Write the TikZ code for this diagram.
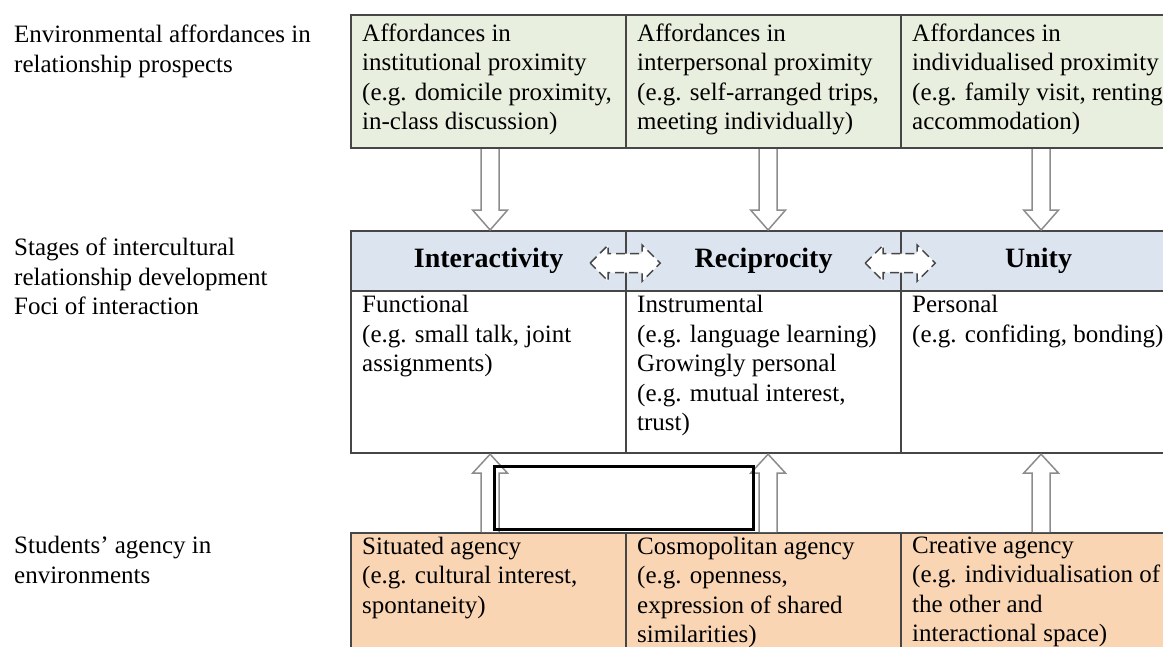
\documentclass[tikz,border=0pt]{standalone}
\usepackage{fontspec}
\setmainfont{Liberation Serif}
\usetikzlibrary{calc}

\definecolor{affgreen}{RGB}{233,239,222}
\definecolor{stageblue}{RGB}{220,228,240}
\definecolor{agencypeach}{RGB}{249,213,180}
\definecolor{gridgray}{RGB}{70,70,70}
\definecolor{arrowgray}{RGB}{140,140,140}

\tikzset{
  box/.style={draw=gridgray, line width=2.2pt, rectangle, minimum width=275pt, anchor=north west, inner sep=0pt},
  boxtext/.style={anchor=north west, align=left, inner sep=0pt, font=\fontsize{25}{29.5}\selectfont},
  stagetext/.style={font=\fontsize{28}{30}\selectfont\bfseries, text height=19pt, text depth=6pt},
  blockarrow/.style={draw=arrowgray, line width=1.5pt, fill=white, line join=miter},
  swaparrow/.style={draw=gridgray, line width=1.5pt, fill=white, dash pattern=on 9pt off 5pt},
}

\begin{document}
\begin{tikzpicture}[x=1pt, y=-1pt]
    \clip (0,0) rectangle (1163,646);

    \foreach \i/\x/\stage in {1/350/Interactivity, 2/625/Reciprocity, 3/900/Unity} {
        \node[box, fill=affgreen, minimum height=133pt] (t\i) at (\x,14) {};
        \node[box, fill=stageblue, minimum height=60pt, stagetext] (h\i) at (\x,230) {\stage};
        \node[box, fill=white, minimum height=162pt] (b\i) at (\x,290) {};
        \node[box, fill=agencypeach, minimum height=130pt] (a\i) at (\x,532) {};
    }

    % row labels
    \node[boxtext] (lab1) at (14,25) {Environmental affordances in\\relationship prospects};
    \node[boxtext] (lab2) at (14,238) {Stages of intercultural\\relationship development\\Foci of interaction};
    \node[boxtext] (lab3) at (14,536) {Students’ agency in\\environments};

    \node[boxtext] (t1-txt) at ($(t1.north west)+(12,9.6)$) {Affordances in\\institutional proximity\\(e.g. domicile proximity,\\in-class discussion)};
    \node[boxtext] (t2-txt) at ($(t2.north west)+(12,9.6)$) {Affordances in\\interpersonal proximity\\(e.g. self-arranged trips,\\meeting individually)};
    \node[boxtext] (t3-txt) at ($(t3.north west)+(12,9.6)$) {Affordances in\\individualised proximity\\(e.g. family visit, renting\\accommodation)};

    \node[boxtext] (b1-txt) at ($(b1.north west)+(12,5)$) {Functional\\(e.g. small talk, joint\\assignments)};
    \node[boxtext] (b2-txt) at ($(b2.north west)+(12,5)$) {Instrumental\\(e.g. language learning)\\Growingly personal\\(e.g. mutual interest,\\trust)};
    \node[boxtext] (b3-txt) at ($(b3.north west)+(12,5)$) {Personal\\(e.g. confiding, bonding)};

    \node[boxtext] (a1-txt) at ($(a1.north west)+(12,4.5)$) {Situated agency\\(e.g. cultural interest,\\spontaneity)};
    \node[boxtext] (a2-txt) at ($(a2.north west)+(12,4.5)$) {Cosmopolitan agency\\(e.g. openness,\\expression of shared\\similarities)};
    \node[boxtext] (a3-txt) at ($(a3.north west)+(12,4.5)$) {Creative agency\\(e.g. individualisation of\\the other and\\interactional space)};

    % hollow arrows
    \foreach \i/\dx in {1/1.5, 2/4.5, 3/2.5} {
        \coordinate (d\i) at ($(h\i.north)+(\dx,0)$);
        \draw[blockarrow] ($(t\i.south)+(\dx-9,0)$) -- ($(d\i)+(-9,-20)$) -- ($(d\i)+(-17.5,-20)$) -- (d\i)
            -- ($(d\i)+(17.5,-20)$) -- ($(d\i)+(9,-20)$) -- ($(t\i.south)+(\dx+9,0)$);
        \coordinate (u\i) at ($(b\i.south)+(\dx,0)$);
        \draw[blockarrow] ($(a\i.north)+(\dx-9,0)$) -- ($(u\i)+(-9,19)$) -- ($(u\i)+(-17.5,19)$) -- (u\i)
            -- ($(u\i)+(17.5,19)$) -- ($(u\i)+(9,19)$) -- ($(a\i.north)+(\dx+9,0)$);
    }

    \foreach \j in {1,2} {
        \coordinate (sw\j) at ($(h\j.east)+(-2,2)$);
        \draw[swaparrow, shift={(sw\j)}] (-35,0) -- (-17,-18) -- (-17,-9.5) -- (17,-9.5) -- (17,-18) -- (35,0)
            -- (17,18) -- (17,9.5) -- (-17,9.5) -- (-17,18) -- cycle;
    }

    \draw[line width=3pt, black] (494.5,466.5) rectangle (753.5,529.5);
\end{tikzpicture}
\end{document}
